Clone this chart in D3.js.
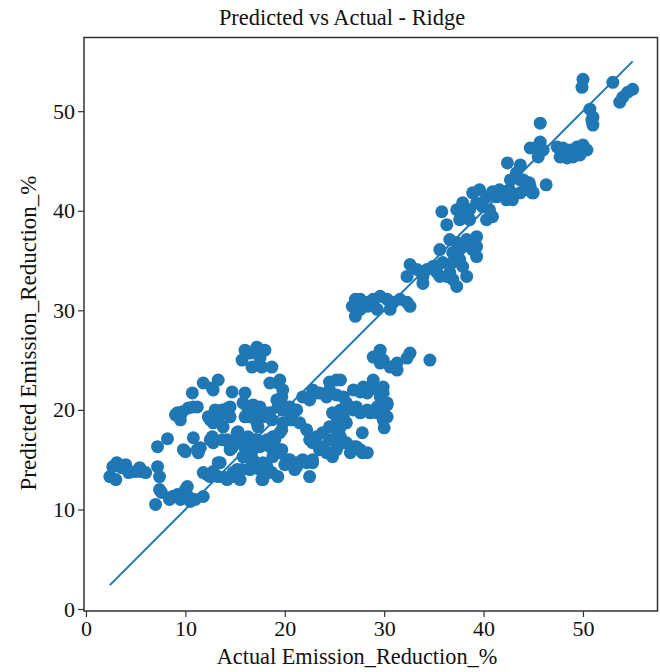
<!DOCTYPE html>
<html>
<head>
<meta charset="utf-8">
<script src="https://cdn.jsdelivr.net/npm/d3@7"></script>
<style>
  body { margin: 0; background: #fff; }
  svg text { font-family: "Liberation Serif", "Times New Roman", serif; fill: #111; }
</style>
</head>
<body>
<div id="chart"></div>
<script>
// Actual vs predicted emission reduction (%), grouped by region
const actual = [
  2.4, 2.7, 3.1, 3.6, 4.0, 4.3, 5.0, 5.6, 5.4, 3.0, 7.2, 7.4, 7.4, 7.6, 7.0, 7.2, 8.2, 6.0,
  8.7, 9.2, 10.0, 10.3, 11.0, 11.8, 8.4, 10.5, 10.2, 9.5,
  10.0, 10.8, 11.5, 11.3, 9.8, 11.2,
  9.0, 9.7, 10.3, 10.8, 10.7, 9.2, 9.5, 11.2,
  11.8, 12.7, 13.3, 12.8, 14.7, 16.0,
  12.3, 13.0, 13.7, 14.3, 13.3, 12.8, 13.5, 14.5, 13.8, 12.5, 14.2,
  12.7, 12.8, 13.7, 14.3, 14.7, 12.5, 14.2, 14.5, 15.2,
  15.3, 16.3, 16.7, 17.0, 16.0, 15.8, 16.5, 16.8, 16.2, 17.2, 18.2, 18.5, 18.8, 17.5, 16.5, 15.2,
  12.2, 12.8, 13.3, 14.0, 14.7, 15.3, 15.7, 13.3, 11.8, 12.5, 13.5, 14.2, 14.8, 15.5,
  16.0, 17.2, 18.0, 15.7, 16.7, 17.7, 18.7, 16.5, 17.5,
  16.3, 17.3, 18.0, 18.7, 17.3, 16.5, 17.2, 17.8, 18.5, 16.0, 16.5, 17.2, 17.5, 15.8, 16.8, 14.5,
  16.7, 17.3, 18.0, 18.7, 19.3, 17.7, 15.8, 16.8, 17.8, 18.8, 16.5, 17.5, 18.2, 17.8, 15.2,
  19.3, 19.7, 19.3, 19.5, 19.8, 19.5, 18.5, 19.2, 19.8, 20.5, 21.2, 20.8, 20.2, 20.8, 20.5, 19.8,
  19.7, 19.0, 19.7, 19.5, 18.8, 19.5, 20.5, 21.8, 22.8, 21.2, 20.2, 21.2, 22.2, 22.8, 22.5, 20.0, 21.0, 19.5, 21.5,
  22.5, 23.2, 24.5, 25.2, 24.5, 24.2, 25.2, 25.9, 22.8, 23.5, 25.6, 21.8,
  24.5, 25.2, 25.6, 23.8, 23.2, 22.5, 22.2, 23.8, 24.5, 25.2, 26.2, 27.2, 27.8, 27.8, 22.8, 24.5, 25.2, 25.9, 26.9, 27.6, 28.3, 23.5, 24.2, 24.8, 26.6,
  25.6, 26.3, 27.2, 28.3, 29.3, 30.3, 25.3, 25.9, 24.8, 26.2, 26.9, 25.6, 26.2, 28.6, 27.6, 29.9, 30.3, 30.0, 29.6, 30.3,
  26.9, 27.6, 28.3, 28.9, 28.6, 29.9, 29.6, 29.3, 27.9, 29.3, 29.9,
  28.9, 29.9, 30.6, 31.3, 32.6, 29.6, 34.6, 29.6, 31.3, 32.3,
  27.6, 28.3, 28.9, 29.6, 30.3, 30.9, 31.6, 32.3, 32.6, 30.6, 29.3, 28.3, 27.6, 27.1, 26.8, 27.1,
  32.6, 32.3, 33.3, 33.9, 34.3, 34.9, 35.3, 35.6, 36.3, 35.3, 35.9, 36.6, 36.9, 37.3, 33.9,
  35.6, 36.6, 37.3, 36.9, 37.6, 37.9, 38.3, 39.3, 38.9, 39.3, 37.6, 36.9, 37.9, 38.3, 39.3,
  35.8, 36.3, 37.3, 37.9, 38.3, 37.6, 38.6, 39.3, 38.9, 39.6, 40.3, 39.9, 40.6, 40.9, 40.3, 41.3, 41.9, 42.6, 42.3, 42.9, 43.7, 43.3, 44.3, 44.9, 44.6, 46.3, 38.6,
  42.4, 43.7, 43.4, 42.7, 44.0, 44.7, 40.9, 41.6, 42.4, 43.0, 43.7, 45.0,
  45.7, 44.7, 45.4, 45.7, 46.0, 45.5, 47.4, 48.0, 48.7, 49.4, 50.0, 50.4, 47.7, 48.4, 49.0, 49.7,
  50.0, 49.9, 53.0, 53.7, 54.0, 54.5, 55.0, 50.7, 51.0, 51.0, 50.9
];

const predicted = [
  13.3, 14.3, 14.7, 14.2, 14.5, 13.7, 13.8, 13.8, 14.2, 13.0, 14.3, 13.3, 12.0, 11.7, 10.5, 16.3, 17.1, 13.7,
  11.3, 11.5, 12.0, 11.3, 11.0, 11.3, 11.0, 10.8, 12.3, 11.0,
  15.8, 17.2, 16.2, 15.7, 16.0, 16.0,
  19.5, 19.8, 20.2, 20.3, 21.7, 19.7, 19.0, 20.3,
  22.7, 22.2, 23.0, 22.0, 21.8, 21.7,
  19.3, 20.0, 20.0, 20.2, 19.0, 18.7, 19.8, 19.3, 18.3, 19.0, 20.0,
  17.3, 16.7, 17.0, 16.8, 16.2, 17.0, 17.0, 16.0, 16.7,
  17.8, 17.3, 16.7, 17.0, 16.2, 17.0, 16.7, 16.0, 15.3, 17.0, 17.0, 16.3, 17.3, 16.3, 16.5, 17.7,
  13.5, 13.8, 13.3, 13.2, 13.3, 13.2, 14.0, 14.7, 13.7, 13.3, 14.7, 13.0, 13.7, 13.0,
  26.0, 26.3, 26.0, 25.0, 24.3, 24.3, 24.3, 25.7, 25.2,
  20.0, 19.3, 19.7, 19.0, 18.3, 19.3, 18.7, 19.3, 19.7, 19.3, 19.8, 20.0, 20.3, 20.7, 20.5, 20.3,
  14.7, 14.3, 14.0, 13.7, 13.3, 13.0, 15.3, 15.0, 14.7, 15.3, 14.0, 14.0, 14.3, 13.0, 14.0,
  22.7, 21.3, 20.3, 23.0, 22.0, 21.0, 22.7, 21.0, 20.0, 20.3, 20.0, 19.0, 20.3, 20.0, 19.0, 18.7,
  18.0, 17.0, 16.0, 17.7, 16.7, 16.0, 15.0, 15.0, 14.7, 14.3, 15.0, 14.7, 14.7, 15.0, 13.3, 14.5, 14.0, 15.7, 18.7,
  21.0, 21.7, 22.0, 23.0, 22.8, 21.3, 21.5, 21.3, 22.0, 21.7, 23.0, 21.3,
  18.3, 18.0, 17.3, 17.7, 17.3, 17.0, 18.0, 16.3, 15.7, 16.0, 16.7, 16.3, 15.7, 17.7, 16.7, 17.0, 17.0, 16.7, 16.3, 16.0, 15.7, 16.0, 15.7, 15.3, 15.7,
  20.0, 20.5, 20.3, 20.0, 19.7, 19.3, 19.0, 19.3, 19.7, 20.7, 20.0, 18.3, 18.7, 19.7, 19.7, 19.0, 20.5, 18.2, 20.0, 20.7,
  22.0, 21.8, 21.7, 23.0, 22.3, 22.3, 21.3, 20.3, 22.3, 22.0, 21.7,
  25.3, 25.0, 24.3, 24.7, 25.7, 26.0, 25.0, 24.7, 24.0, 25.2,
  31.1, 30.8, 31.1, 31.4, 31.1, 30.8, 31.1, 30.8, 30.4, 30.1, 30.1, 30.4, 30.1, 31.1, 30.4, 29.4,
  34.6, 33.4, 34.1, 33.4, 34.1, 34.4, 33.8, 33.4, 33.4, 34.4, 34.8, 33.8, 33.1, 32.4, 32.7,
  36.1, 37.1, 36.8, 35.8, 36.1, 36.4, 37.1, 37.4, 36.1, 35.4, 35.1, 34.8, 34.4, 33.4, 36.4,
  39.9, 38.6, 40.1, 40.8, 39.8, 39.1, 39.1, 40.8, 41.8, 42.1, 41.4, 40.4, 40.1, 39.4, 39.1, 41.4, 41.8, 42.1, 41.1, 41.1, 43.1, 43.8, 42.1, 41.8, 42.8, 42.6, 40.1,
  44.8, 44.6, 43.4, 43.1, 43.1, 42.4, 41.9, 42.1, 41.8, 41.6, 41.8, 41.8,
  48.8, 46.3, 46.4, 46.9, 46.1, 45.4, 46.4, 46.3, 46.1, 46.4, 46.6, 46.1, 45.4, 45.3, 45.4, 45.6,
  53.2, 52.4, 52.9, 50.9, 51.4, 51.9, 52.2, 50.2, 49.4, 48.6, 49.1
];

const xTicks = [0, 10, 20, 30, 40, 50];
const yTicks = [0, 10, 20, 30, 40, 50];

const width = 660;
const height = 672;
const frame = { left: 84, right: 657.5, top: 37.5, bottom: 611 };
const blue = "#1f77b4";

const points = actual.map((a, i) => ({ actual: a, predicted: predicted[i] }));

const svg = d3.select("#chart")
  .append("svg")
  .attr("width", width)
  .attr("height", height);

const xScale = d3.scaleLinear()
  .domain([-0.2, 57.5])
  .range([frame.left, frame.right]);

const yScale = d3.scaleLinear()
  .domain([-0.2, 57.4])
  .range([frame.bottom, frame.top]);

// points
svg.append("g")
  .selectAll("circle")
  .data(points)
  .join("circle")
  .attr("cx", (d) => xScale(d.actual))
  .attr("cy", (d) => yScale(d.predicted))
  .attr("r", 6.5)
  .attr("fill", blue);

// y = x reference line over the actual range
const [lo, hi] = d3.extent(actual);
svg.append("line")
  .attr("x1", xScale(lo))
  .attr("y1", yScale(lo))
  .attr("x2", xScale(hi))
  .attr("y2", yScale(hi))
  .attr("stroke", blue)
  .attr("stroke-width", 2);

// frame
svg.append("rect")
  .attr("x", frame.left)
  .attr("y", frame.top)
  .attr("width", frame.right - frame.left)
  .attr("height", frame.bottom - frame.top)
  .attr("fill", "none")
  .attr("stroke", "#333")
  .attr("stroke-width", 1.5);

// axes
const xAxis = svg.append("g")
  .attr("transform", `translate(0,${frame.bottom})`)
  .call(d3.axisBottom(xScale).tickValues(xTicks).tickSize(6).tickPadding(3).tickSizeOuter(0));

const yAxis = svg.append("g")
  .attr("transform", `translate(${frame.left},0)`)
  .call(d3.axisLeft(yScale).tickValues(yTicks).tickSize(6).tickPadding(3).tickSizeOuter(0));

[xAxis, yAxis].forEach((ax) => {
  ax.select(".domain").remove();
  ax.selectAll(".tick line").attr("stroke", "#333").attr("stroke-width", 1.2);
  ax.selectAll(".tick text")
    .style("font-family", "'Liberation Serif', 'Times New Roman', serif")
    .style("font-size", "22px")
    .attr("fill", "#111");
});

// titles
svg.append("text")
  .attr("x", 342)
  .attr("y", 25)
  .attr("text-anchor", "middle")
  .style("font-size", "22.4px")
  .text("Predicted vs Actual - Ridge");

svg.append("text")
  .attr("x", 357)
  .attr("y", 664)
  .attr("text-anchor", "middle")
  .style("font-size", "22.3px")
  .text("Actual Emission_Reduction_%");

svg.append("text")
  .attr("transform", "translate(36,333) rotate(-90)")
  .attr("text-anchor", "middle")
  .style("font-size", "23px")
  .text("Predicted Emission_Reduction_%");
</script>
</body>
</html>
